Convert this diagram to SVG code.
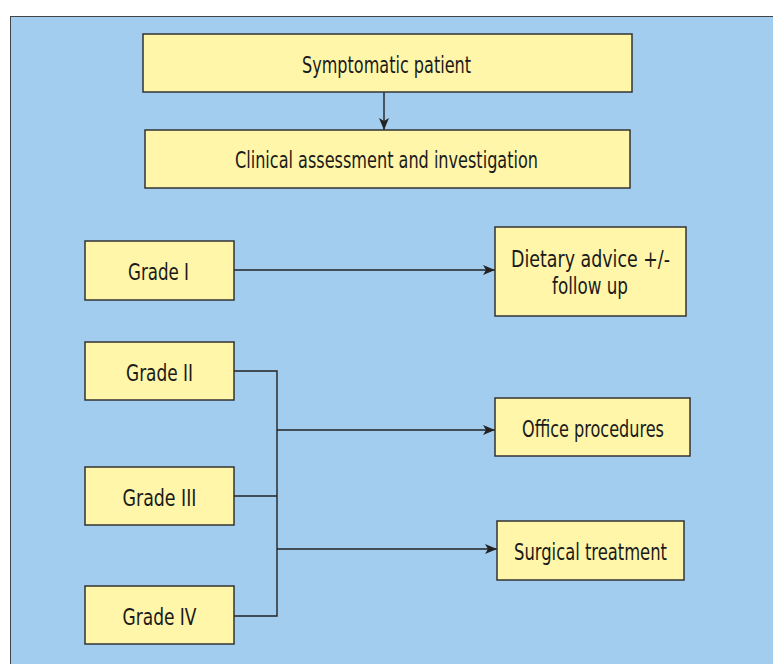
<svg xmlns="http://www.w3.org/2000/svg" width="773" height="664" viewBox="0 0 773 664">
<defs>
<style>
.box{fill:#FFF6A9;stroke:#333;stroke-width:1.5}
.t{font-family:"DejaVu Sans Condensed","DejaVu Sans",sans-serif;font-size:23.5px;fill:#1a1a1a;text-anchor:middle}
.c{fill:none;stroke:#222;stroke-width:1.4}
</style>
<marker id="ah" viewBox="0 0 12 10" refX="12" refY="5" markerWidth="12" markerHeight="10" markerUnits="userSpaceOnUse" orient="auto">
<path d="M0,0 L12,5 L0,10 L3,5 Z" fill="#222"/>
</marker>
</defs>
<rect x="0" y="0" width="773" height="664" fill="#fff"/>
<rect x="10.5" y="16.5" width="770" height="660" fill="#A3CDEE" stroke="#444" stroke-width="1"/>
<g id="connectors">
<line class="c" x1="384" y1="92" x2="384" y2="130" marker-end="url(#ah)"/>
<line class="c" x1="234" y1="270" x2="495" y2="270" marker-end="url(#ah)"/>
<polyline class="c" points="234,371 277,371 277,616 234,616"/>
<line class="c" x1="234" y1="496" x2="277" y2="496"/>
<line class="c" x1="277" y1="430" x2="495" y2="430" marker-end="url(#ah)"/>
<line class="c" x1="277" y1="549" x2="497" y2="549" marker-end="url(#ah)"/>
</g>
<g id="symptomatic"><rect class="box" x="143" y="34" width="489" height="58"/><text class="t" x="386.5" y="73" textLength="169" lengthAdjust="spacingAndGlyphs">Symptomatic patient</text></g>
<g id="clinical"><rect class="box" x="145" y="130" width="485" height="58"/><text class="t" x="386.5" y="168" textLength="303" lengthAdjust="spacingAndGlyphs">Clinical assessment and investigation</text></g>
<g id="grade1"><rect class="box" x="85" y="241" width="149" height="59"/><text class="t" x="158.5" y="280" textLength="61" lengthAdjust="spacingAndGlyphs">Grade I</text></g>
<g id="dietary"><rect class="box" x="495" y="227" width="191" height="89"/><text class="t" x="590.5" y="267" textLength="159" lengthAdjust="spacingAndGlyphs">Dietary advice +/-</text><text class="t" x="590" y="294" textLength="76" lengthAdjust="spacingAndGlyphs">follow up</text></g>
<g id="grade2"><rect class="box" x="85" y="342" width="149" height="58"/><text class="t" x="159.5" y="381" textLength="67" lengthAdjust="spacingAndGlyphs">Grade II</text></g>
<g id="office"><rect class="box" x="495" y="398" width="195" height="58"/><text class="t" x="593" y="437" textLength="142" lengthAdjust="spacingAndGlyphs">Office procedures</text></g>
<g id="grade3"><rect class="box" x="85" y="467" width="149" height="58"/><text class="t" x="159.5" y="506" textLength="74" lengthAdjust="spacingAndGlyphs">Grade III</text></g>
<g id="surgical"><rect class="box" x="497" y="521" width="187" height="59"/><text class="t" x="590.5" y="560" textLength="153" lengthAdjust="spacingAndGlyphs">Surgical treatment</text></g>
<g id="grade4"><rect class="box" x="85" y="586" width="149" height="58"/><text class="t" x="159.5" y="625" textLength="74" lengthAdjust="spacingAndGlyphs">Grade IV</text></g>
</svg>
